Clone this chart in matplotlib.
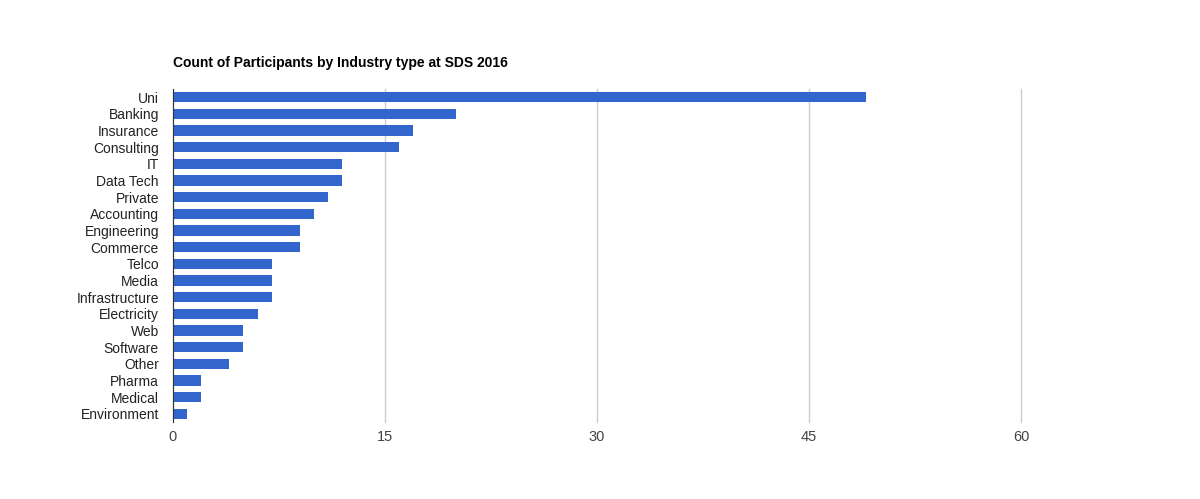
import matplotlib.pyplot as plt

plt.rcParams['font.family'] = ['Liberation Sans', 'DejaVu Sans']

industries = ["Uni", "Banking", "Insurance", "Consulting", "IT", "Data Tech",
              "Private", "Accounting", "Engineering", "Commerce", "Telco",
              "Media", "Infrastructure", "Electricity", "Web", "Software",
              "Other", "Pharma", "Medical", "Environment"]
counts = [49, 20, 17, 16, 12, 12, 11, 10, 9, 9, 7, 7, 7, 6, 5, 5, 4, 2, 2, 1]
x_ticks = [0, 15, 30, 45, 60]

fig = plt.figure(figsize=(12, 4.99), dpi=100)
ax = fig.add_axes([0.144, 0.154, 0.707, 0.668])

y = list(range(len(industries)))
ax.barh(y, counts, height=0.62, color='#3366cc', zorder=3)

ax.set_ylim(len(industries) - 0.5, -0.5)
ax.set_xlim(0, 60)
ax.set_yticks(y)
ax.set_yticklabels(industries, fontsize=10, color='#222222')
ax.set_xticks(x_ticks)
ax.set_xticklabels([str(t) for t in x_ticks], fontsize=10.5, color='#444444')

ax.grid(axis='x', color='#cccccc', linewidth=1, zorder=0)
for gl in ax.get_xgridlines():
    gl.set_clip_on(False)
for s in ['top', 'right', 'bottom']:
    ax.spines[s].set_visible(False)
ax.spines['left'].set_color('#333333')
ax.spines['left'].set_zorder(4)
ax.tick_params(axis='y', length=0, pad=10)
ax.tick_params(axis='x', length=0, pad=6)

fig.text(0.144, 0.865, "Count of Participants by Industry type at SDS 2016",
         fontsize=10, fontweight='bold', color='#000000')

fig.savefig("out.png", dpi=100)
